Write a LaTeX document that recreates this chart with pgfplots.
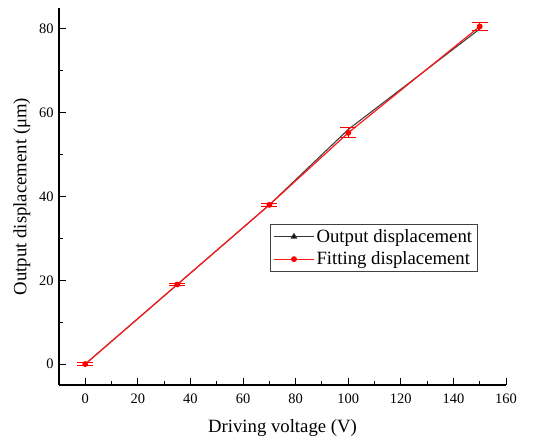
\documentclass[border=0pt]{standalone}
\usepackage{fontspec}
\setmainfont{Liberation Serif}
\usepackage{pgfplots}
\pgfplotsset{compat=1.18}
\begin{document}
\begin{tikzpicture}
\begin{axis}[
 scale only axis, width=447bp, height=377bp,
 xmin=-10,xmax=160,ymin=-5,ymax=85,
 axis lines=left, axis line style={-, line width=1.2bp},
 xtick={0,20,...,160}, ytick={0,20,...,80},
 minor xtick={10,30,...,150}, minor ytick={10,30,50,70},
 tick align=inside, major tick length=7bp, minor tick length=4bp,
 tick style={black, line width=1bp},
 /pgf/number format/assume math mode=true,
 ticklabel style={font=\fontsize{14.5}{16}\selectfont},
 xticklabel style={yshift=-5bp},
 yticklabel style={xshift=-2bp},
 label style={font=\fontsize{18.8}{22}\selectfont},
 xlabel={Driving voltage (V)}, ylabel={Output displacement (μm)},
 xlabel style={at={(axis description cs:0.5,-0.113)}, anchor=center},
 ylabel style={at={(axis description cs:-0.083,0.5)}, anchor=center},
 legend style={at={(rel axis cs:0.472,0.427)}, anchor=north west, draw=black!75, line width=0.8bp, font=\fontsize{18.8}{21}\selectfont, inner sep=3bp, row sep=4bp},
 legend cell align=left,
 legend image code/.code={\draw[#1, mark repeat=2, mark phase=2] plot coordinates {(0bp,0bp)(20bp,0bp)(40bp,0bp)};},
 clip=false,
]
\coordinate (SW) at (rel axis cs:0,0);
\coordinate (NE) at (rel axis cs:1,1);
\addlegendimage{black!80, line width=1bp, mark=triangle*, mark size=3bp, mark options={fill=black}}
\addlegendentry{Output displacement}
\addplot[forget plot, color=black!75, line width=1.1bp] coordinates {(0,0)(35,19)(70,38)(100,56)(150,80)};
\addplot[red!90!white, line width=1.2bp, mark=*, mark size=2.3bp, mark options={red},
  error bars/.cd, y dir=both, y explicit,
  error bar style={red, line width=1.2bp},
  error mark options={rotate=90, red, mark size=8bp, line width=1.2bp}]
  coordinates {(0,0) +- (0,0.3) (35,19) +- (0,0.3) (70,38) +- (0,0.3) (100,55.2) +- (0,1.2) (150,80.6) +- (0,1.0)};
\addlegendentry{Fitting displacement}
\end{axis}
\pgfresetboundingbox
\path[use as bounding box] ([shift={(-59bp,-56bp)}]SW) rectangle ([shift={(41bp,8bp)}]NE);
\end{tikzpicture}
\end{document}
